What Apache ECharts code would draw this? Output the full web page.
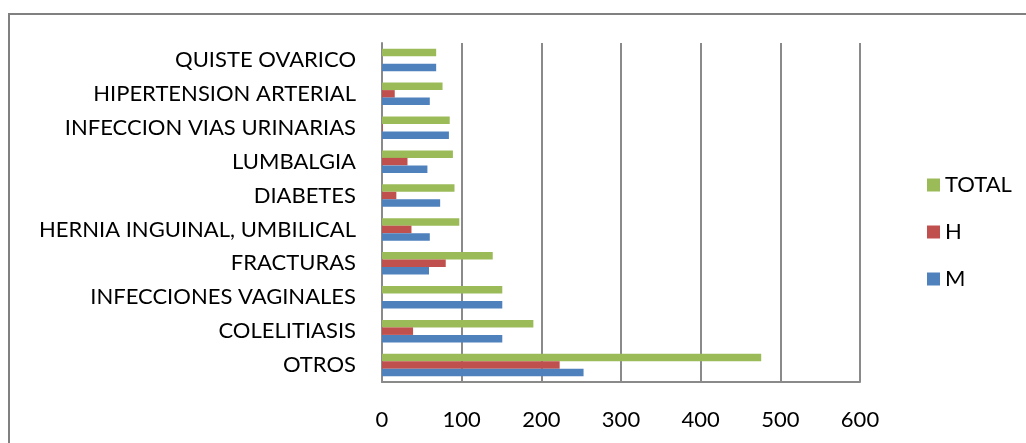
<!DOCTYPE html>
<html>
<head>
<meta charset="utf-8">
<script src="https://cdn.jsdelivr.net/npm/echarts@6/dist/echarts.min.js"></script>
<style>
  html, body { margin: 0; padding: 0; background: #ffffff; }
  #chart { width: 1026px; height: 443px; }
</style>
</head>
<body>
<div id="chart"></div>
<script>
// Diagnoses, listed bottom to top
const categories = [
  'OTROS',
  'COLELITIASIS',
  'INFECCIONES VAGINALES',
  'FRACTURAS',
  'HERNIA INGUINAL, UMBILICAL',
  'DIABETES',
  'LUMBALGIA',
  'INFECCION VIAS URINARIAS',
  'HIPERTENSION ARTERIAL',
  'QUISTE OVARICO'
];
const valuesM     = [253, 151, 151, 59, 60, 73, 57, 84, 60, 68];
const valuesH     = [223, 39, 0, 80, 37, 18, 32, 1, 16, 0];
const valuesTotal = [476, 190, 151, 139, 97, 91, 89, 85, 76, 68];
const xTicks = [0, 100, 200, 300, 400, 500, 600];

const FONT = 'Lato';
const FS = 22;
const GRID = '#8a8a8a';

const chart = echarts.init(document.getElementById('chart'), null, { renderer: 'canvas' });

chart.setOption({
  animation: false,
  backgroundColor: '#ffffff',
  textStyle: { fontFamily: FONT, color: '#000000' },
  grid: { left: 382, right: 166, top: 43, bottom: 61, containLabel: false },
  legend: {
    orient: 'vertical',
    left: 922,
    top: 169,
    itemWidth: 13,
    itemHeight: 13,
    itemGap: 25,
    icon: 'rect',
    data: ['TOTAL', 'H', 'M'],
    textStyle: { fontFamily: FONT, fontSize: FS, color: '#000000', lineHeight: FS, padding: [0, 0, 0, 0] }
  },
  xAxis: {
    type: 'value',
    min: xTicks[0],
    max: xTicks[xTicks.length - 1],
    interval: 100,
    axisLine: { show: true, lineStyle: { color: GRID, width: 2 } },
    axisTick: { show: false },
    splitLine: { show: true, lineStyle: { color: GRID, width: 2 } },
    axisLabel: {
      fontFamily: FONT, fontSize: FS, color: '#000000', margin: 27, lineHeight: FS,
      formatter: (v) => xTicks.includes(v) ? String(v) : ''
    }
  },
  yAxis: {
    type: 'category',
    data: categories,
    axisLine: { show: true, lineStyle: { color: GRID, width: 2 } },
    axisTick: { show: false },
    splitLine: { show: false },
    axisLabel: { fontFamily: FONT, fontSize: FS, color: '#000000', margin: 26 }
  },
  // Within each group the first series is drawn on top
  series: [
    { name: 'TOTAL', type: 'bar', data: valuesTotal, barWidth: 7.5, barGap: '0%', itemStyle: { color: '#9BBB59' } },
    { name: 'H', type: 'bar', data: valuesH, barWidth: 7.5, barGap: '0%', itemStyle: { color: '#C0504D' } },
    { name: 'M', type: 'bar', data: valuesM, barWidth: 7.5, barGap: '0%', itemStyle: { color: '#4F81BD' } }
  ],
  graphic: [
    {
      type: 'polyline',
      silent: true,
      shape: { points: [[9, 443], [9, 14], [1026, 14]] },
      style: { stroke: '#808080', lineWidth: 2, fill: null }
    }
  ]
});
</script>
</body>
</html>
